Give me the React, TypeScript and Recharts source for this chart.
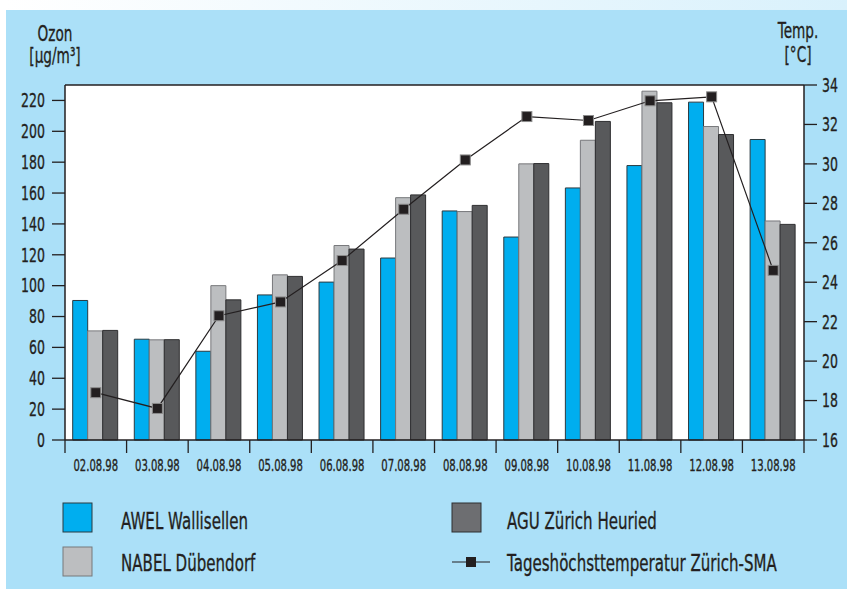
import {
  ComposedChart,
  Bar,
  Line,
  XAxis,
  YAxis,
  CartesianGrid,
  ReferenceLine,
} from "recharts";

const dates = [
  "02.08.98", "03.08.98", "04.08.98", "05.08.98", "06.08.98", "07.08.98",
  "08.08.98", "09.08.98", "10.08.98", "11.08.98", "12.08.98", "13.08.98",
];
const awel = [90.4, 65.3, 57.5, 94, 102.3, 117.9, 148.4, 131.5, 163.3, 177.8, 218.9, 194.7];
const nabel = [70.7, 64.9, 100, 107, 126, 157, 148, 178.9, 194.2, 226, 203.1, 141.9];
const agu = [71, 65, 90.8, 106, 123.7, 158.8, 152, 179.1, 206.4, 218.5, 197.9, 139.7];
const temp = [18.4, 17.6, 22.3, 23.0, 25.1, 27.7, 30.2, 32.4, 32.2, 33.2, 33.4, 24.6];

const ozonTicks = [0, 20, 40, 60, 80, 100, 120, 140, 160, 180, 200, 220];
const tempTicks = [16, 18, 20, 22, 24, 26, 28, 30, 32, 34];

const seriesNames = {
  awel: "AWEL Wallisellen",
  nabel: "NABEL Dübendorf",
  agu: "AGU Zürich Heuried",
  temp: "Tageshöchsttemperatur Zürich-SMA",
};

const data = dates.map((d, i) => ({
  date: d,
  awel: awel[i],
  nabel: nabel[i],
  agu: agu[i],
  temp: temp[i],
}));

const FONT = '"DejaVu Sans", "Roboto", sans-serif';
const INK = "#231f20";
const BLUE = "#00aeef";
const LIGHT = "#bcbec0";
const DARK = "#58595b";
const BG = "#abe0f8";

const W = 847;
const H = 589;
const PLOT_LEFT = 65;
const PLOT_RIGHT = 804;
const PLOT_TOP = 85;
const PLOT_BOTTOM = 440;
const band = (PLOT_RIGHT - PLOT_LEFT) / dates.length;

// the reference uses a narrow grotesque, so DejaVu gets squeezed horizontally
function Narrow(props: any) {
  const { x, y, sx, size, anchor = "start", dy, children } = props;
  return (
    <text
      transform={`translate(${x} ${y}) scale(${sx} 1)`}
      textAnchor={anchor}
      dy={dy}
      fontFamily={FONT}
      fontSize={size}
      fill={INK}
      stroke={INK}
      strokeWidth={0.35}
    >
      {children}
    </text>
  );
}

function DateTick(props: any) {
  const { x, y, payload, index } = props;
  const left = x - band / 2;
  const right = x + band / 2;
  return (
    <g>
      <line x1={left} x2={left} y1={y} y2={y + 13} stroke={INK} strokeWidth={1.3} />
      {index === dates.length - 1 && (
        <line x1={right} x2={right} y1={y} y2={y + 13} stroke={INK} strokeWidth={1.3} />
      )}
      <Narrow x={x} y={y + 31} sx={0.67} size={15} anchor="middle">
        {payload.value}
      </Narrow>
    </g>
  );
}

function LeftTick(props: any) {
  const { x, y, payload } = props;
  return (
    <Narrow x={x} y={y} sx={0.66} size={19} anchor="end" dy="0.36em">
      {payload.value}
    </Narrow>
  );
}

function RightTick(props: any) {
  const { x, y, payload } = props;
  return (
    <Narrow x={x} y={y} sx={0.66} size={19} anchor="start" dy="0.36em">
      {payload.value}
    </Narrow>
  );
}

function SquareDot(props: any) {
  const { cx, cy, index } = props;
  if (cx == null || cy == null) return null;
  return (
    <rect
      key={index}
      x={cx - 5}
      y={cy - 5}
      width={10}
      height={10}
      fill={INK}
      stroke="#8c8c8c"
      strokeWidth={1}
    />
  );
}

export default function App() {
  return (
    <div
      style={{
        position: "absolute",
        left: 0,
        top: 0,
        width: W,
        height: H,
        background: "#ffffff",
        overflow: "hidden",
      }}
    >
      <div
        style={{
          position: "absolute",
          left: 6,
          top: 0,
          width: W - 6,
          height: 10,
          background: "linear-gradient(to right, #ffffff, #d9f1fc)",
        }}
      />
      <div
        style={{
          position: "absolute",
          left: 6,
          top: 10,
          width: W - 6,
          height: H - 10,
          background: BG,
        }}
      />
      <div style={{ position: "absolute", left: 0, top: 0 }}>
        <ComposedChart
          width={W}
          height={H}
          data={data}
          margin={{ top: PLOT_TOP, right: 0, bottom: H - PLOT_BOTTOM - 40, left: 0 }}
          barCategoryGap="12.5%"
          barGap={0}
        >
          <CartesianGrid horizontal={false} vertical={false} fill="#ffffff" />
          <XAxis
            dataKey="date"
            height={40}
            tickSize={0}
            tickMargin={0}
            tickLine={false}
            interval={0}
            axisLine={{ stroke: INK, strokeWidth: 1.5 }}
            tick={<DateTick />}
          />
          <YAxis
            yAxisId="left"
            orientation="left"
            width={PLOT_LEFT}
            domain={[0, 230]}
            ticks={ozonTicks}
            interval={0}
            tickSize={13}
            tickMargin={7}
            axisLine={{ stroke: INK, strokeWidth: 1.5 }}
            tickLine={{ stroke: INK, strokeWidth: 1.3 }}
            tick={<LeftTick />}
          />
          <YAxis
            yAxisId="right"
            orientation="right"
            width={W - PLOT_RIGHT}
            domain={[16, 34]}
            ticks={tempTicks}
            interval={0}
            tickSize={13}
            tickMargin={5}
            axisLine={{ stroke: INK, strokeWidth: 1.5 }}
            tickLine={{ stroke: INK, strokeWidth: 1.3 }}
            tick={<RightTick />}
          />
          <ReferenceLine yAxisId="left" y={230} stroke={INK} strokeWidth={1.5} />
          <Bar
            yAxisId="left"
            dataKey="awel"
            name={seriesNames.awel}
            fill={BLUE}
            stroke="#2b3a40"
            strokeWidth={1}
            isAnimationActive={false}
          />
          <Bar
            yAxisId="left"
            dataKey="nabel"
            name={seriesNames.nabel}
            fill={LIGHT}
            stroke="#77787b"
            strokeWidth={1}
            isAnimationActive={false}
          />
          <Bar
            yAxisId="left"
            dataKey="agu"
            name={seriesNames.agu}
            fill={DARK}
            stroke="#2e2e30"
            strokeWidth={1}
            isAnimationActive={false}
          />
          <Line
            yAxisId="right"
            dataKey="temp"
            name={seriesNames.temp}
            stroke={INK}
            strokeWidth={1.2}
            dot={<SquareDot />}
            activeDot={false}
            isAnimationActive={false}
          />
        </ComposedChart>
      </div>
      <svg
        width={W}
        height={H}
        style={{ position: "absolute", left: 0, top: 0, pointerEvents: "none" }}
      >
        <Narrow x={55} y={41} sx={0.65} size={21} anchor="middle">Ozon</Narrow>
        <Narrow x={55} y={63} sx={0.65} size={21} anchor="middle">[µg/m³]</Narrow>
        <Narrow x={798} y={38} sx={0.65} size={21} anchor="middle">Temp.</Narrow>
        <Narrow x={798} y={62} sx={0.65} size={21} anchor="middle">[°C]</Narrow>

        <rect x={63} y={503} width={29} height={29} fill={BLUE} stroke="#2b3a40" />
        <Narrow x={121} y={529} sx={0.655} size={23}>{seriesNames.awel}</Narrow>
        <rect x={63} y={547} width={29} height={29} fill={LIGHT} stroke="#77787b" />
        <Narrow x={121} y={571} sx={0.655} size={23}>{seriesNames.nabel}</Narrow>

        <rect x={452} y={503} width={29} height={29} fill="#6d6e71" stroke="#2e2e30" />
        <Narrow x={507} y={529} sx={0.655} size={23}>{seriesNames.agu}</Narrow>
        <line x1={452} x2={490} y1={562} y2={562} stroke={INK} strokeWidth={1.2} />
        <rect x={466} y={557} width={10} height={10} fill={INK} />
        <Narrow x={507} y={571} sx={0.655} size={23}>{seriesNames.temp}</Narrow>
      </svg>
    </div>
  );
}
